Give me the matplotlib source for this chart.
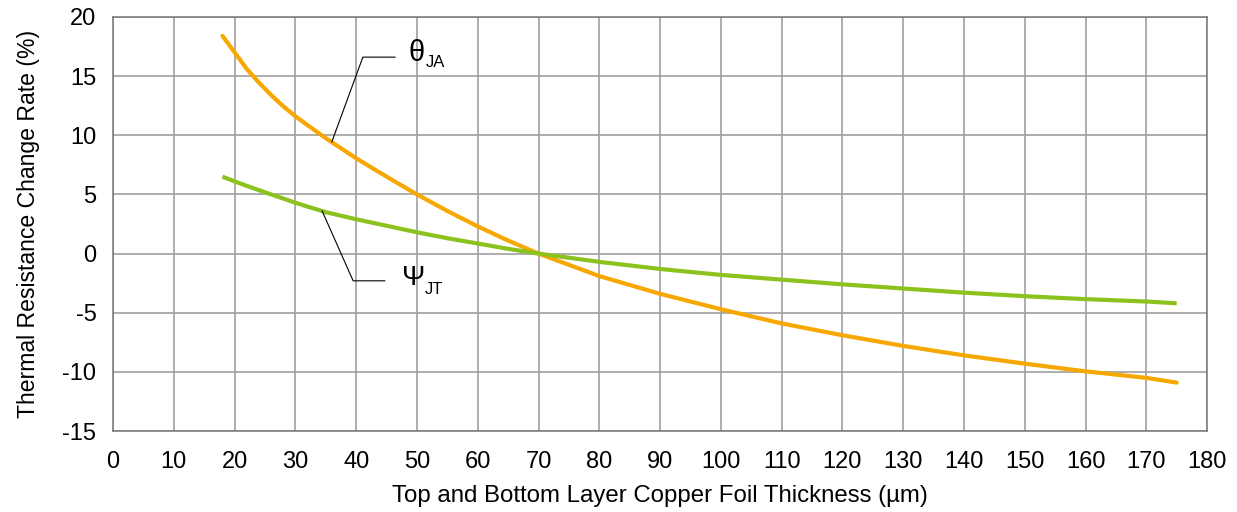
import matplotlib
matplotlib.use("Agg")
import matplotlib.pyplot as plt

plt.rcParams['font.family'] = ['Liberation Sans', 'DejaVu Sans']
plt.rcParams['axes.unicode_minus'] = False

thickness = [18, 20, 22, 24, 26, 28, 30, 32, 35, 40, 45, 50, 55, 60, 65, 70, 80, 90, 100, 110, 120, 130, 140, 150, 160, 170, 175]
theta_ja = [18.4, 17.0, 15.6, 14.45, 13.4, 12.45, 11.6, 10.85, 9.75, 8.05, 6.5, 5.0, 3.6, 2.3, 1.1, 0.0, -1.9, -3.4, -4.7, -5.9, -6.9, -7.8, -8.6, -9.3, -9.95, -10.5, -10.9]
psi_jt = [6.5, 6.1, 5.72, 5.36, 5.0, 4.65, 4.3, 3.97, 3.5, 2.9, 2.35, 1.8, 1.3, 0.85, 0.4, 0.0, -0.7, -1.3, -1.8, -2.2, -2.6, -2.95, -3.3, -3.6, -3.85, -4.05, -4.2]

x_ticks = list(range(0, 181, 10))
y_ticks = list(range(-15, 21, 5))

orange = '#F7A800'
green = '#8CC21E'
grid_c = '#A0A0A0'

fig = plt.figure(figsize=(12.37, 5.12), dpi=100)
ax = fig.add_axes([0.0914, 0.158, 0.8844, 0.809])

ax.plot(thickness, theta_ja, color=orange, lw=3, solid_capstyle='round', solid_joinstyle='round', zorder=3)
ax.plot(thickness, psi_jt, color=green, lw=3, solid_capstyle='butt', solid_joinstyle='round', zorder=3)

ax.set_xlim(0, 180)
ax.set_ylim(-15, 20)
ax.set_xticks(x_ticks)
ax.set_yticks(y_ticks)
ax.grid(True, color=grid_c, lw=1.2)
ax.set_axisbelow(True)
for s in ax.spines.values():
    s.set_color('#7F7F7F')
    s.set_linewidth(1.2)
ax.tick_params(axis='y', length=0, labelsize=17, pad=12)
ax.tick_params(axis='x', length=0, labelsize=17, pad=14)

ax.set_xlabel('Top and Bottom Layer Copper Foil Thickness (µm)', fontsize=17.3, labelpad=9)
ax.set_ylabel('Thermal Resistance Change Rate (%)', fontsize=16.6, labelpad=16)

# leader lines
ax.plot([36.0, 41.1, 46.4], [9.45, 16.6, 16.6], color='black', lw=0.8, zorder=4)
ax.plot([34.4, 39.5, 44.7], [3.6, -2.3, -2.3], color='black', lw=0.8, zorder=4)

ax.text(48.6, 16.96, 'θ', fontsize=21, va='center', ha='left', zorder=5)
ax.text(51.4, 15.77, 'JA', fontsize=12, va='baseline', ha='left', zorder=5)
ax.text(47.5, -2.06, 'Ψ', fontsize=20, va='center', ha='left', zorder=5)
ax.text(51.3, -3.41, 'JT', fontsize=12, va='baseline', ha='left', zorder=5)

fig.savefig('out.png', dpi=100)
